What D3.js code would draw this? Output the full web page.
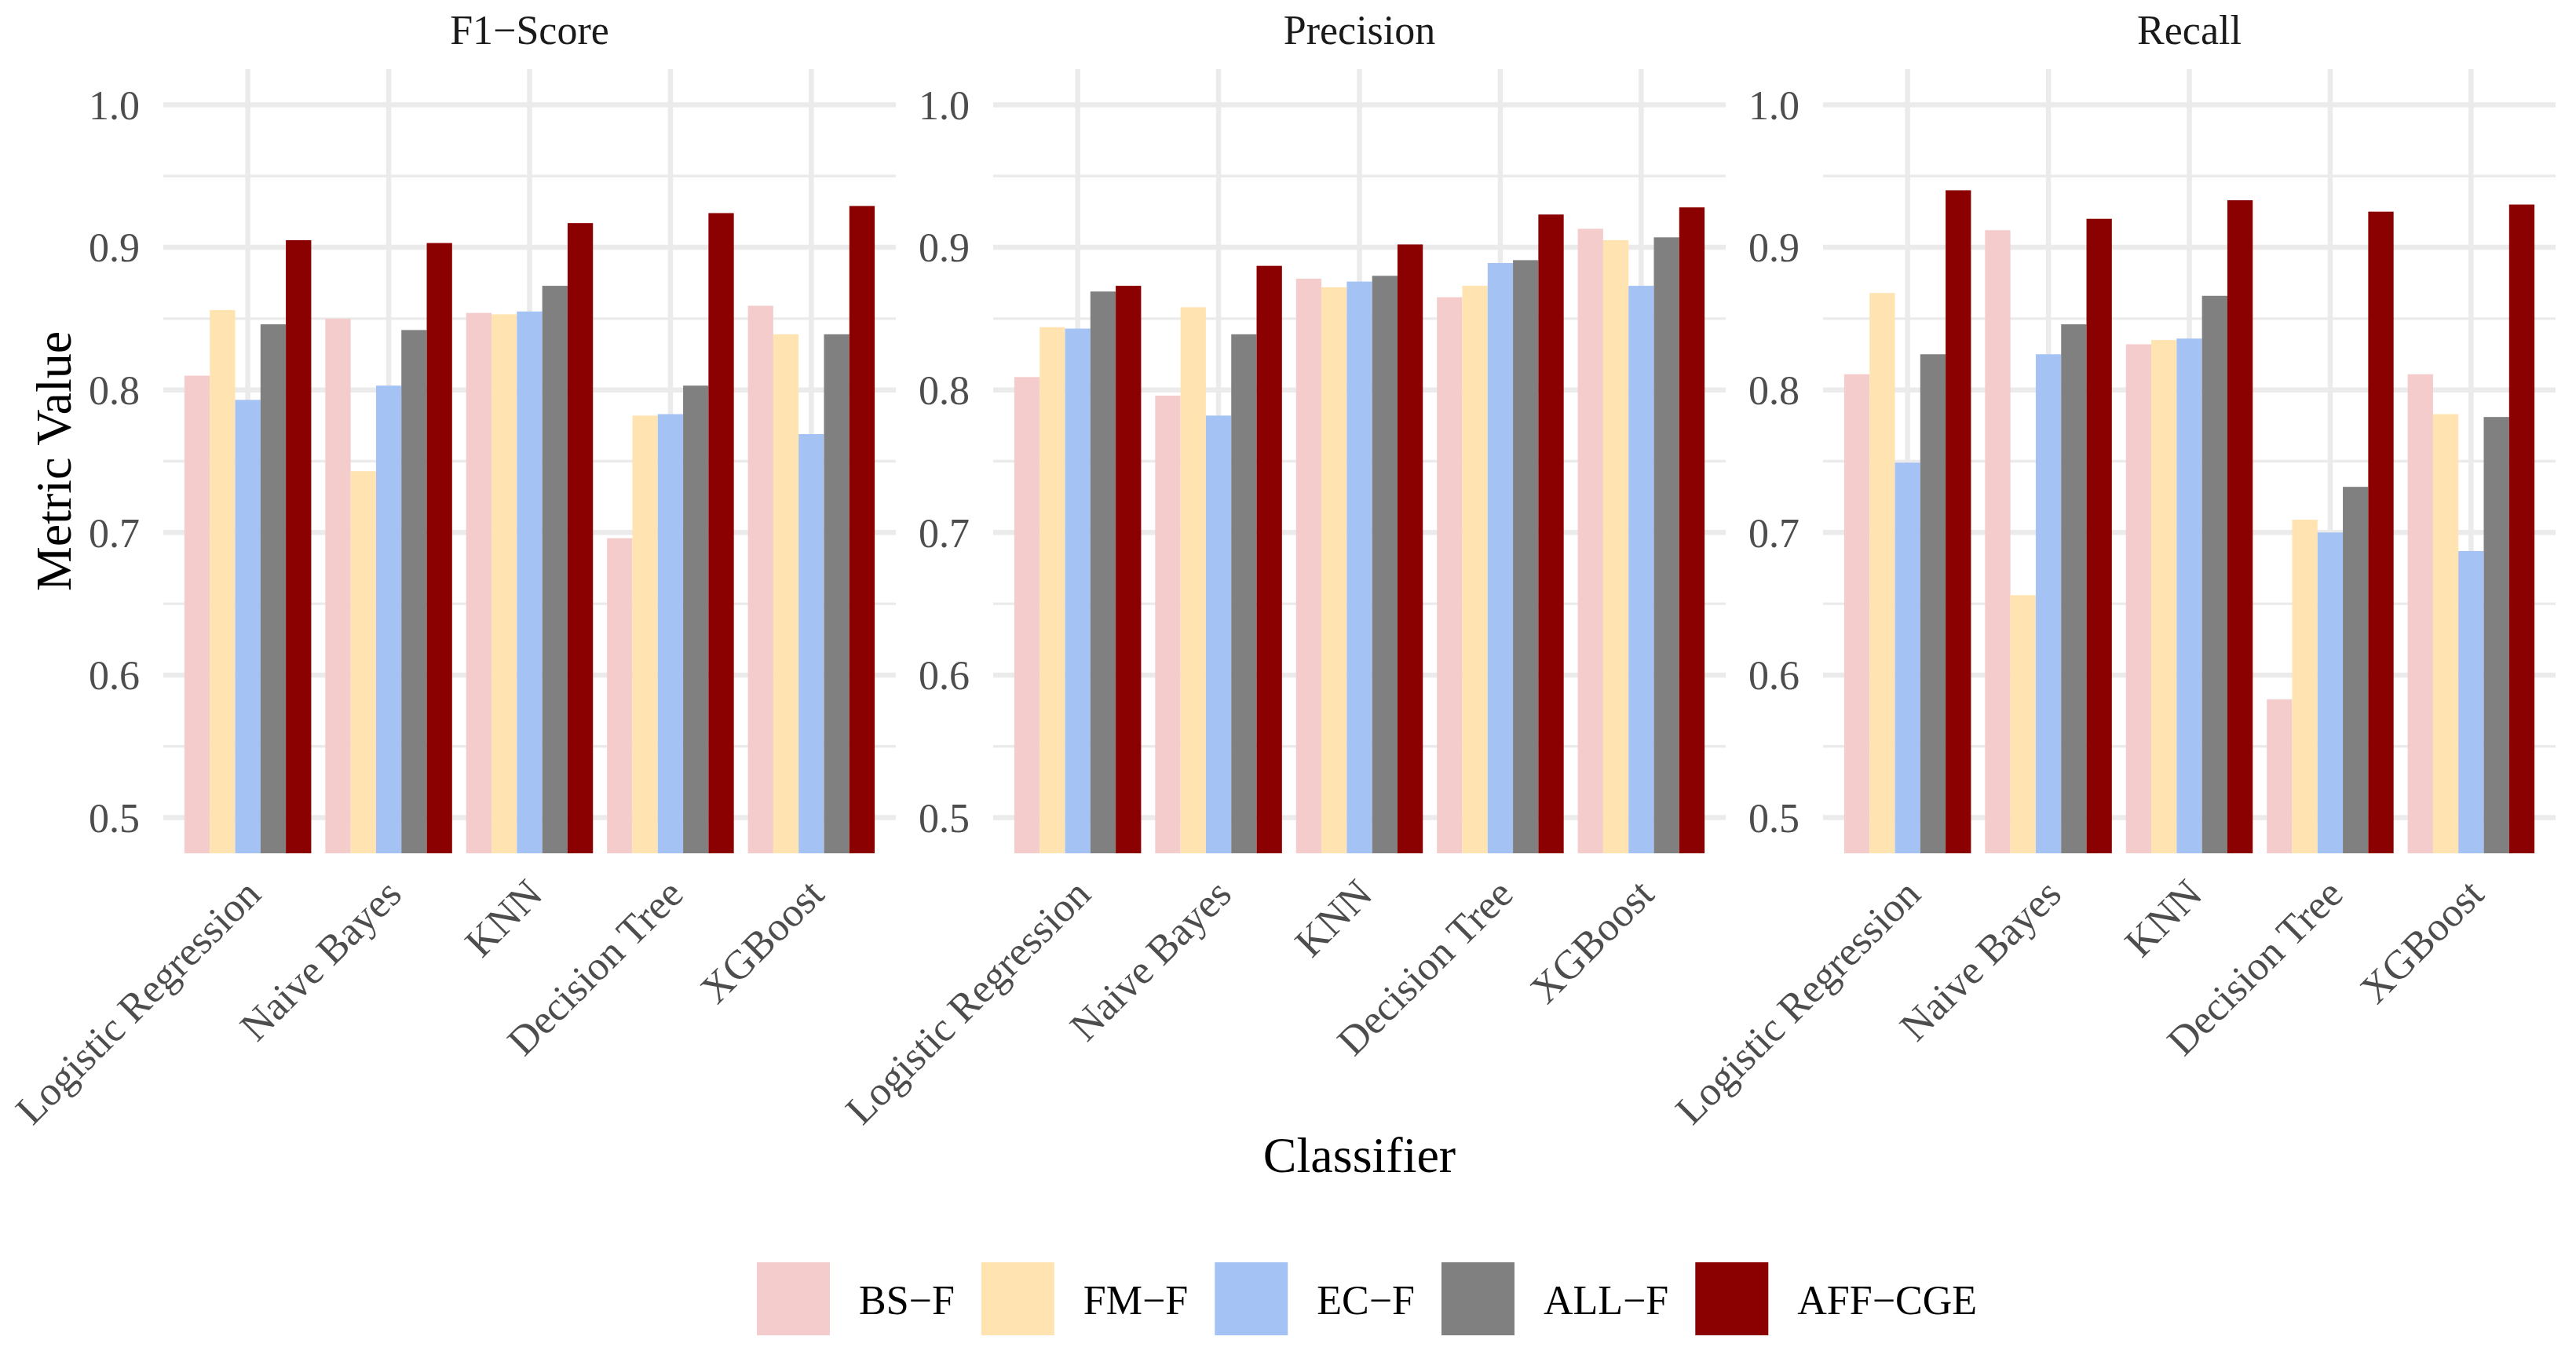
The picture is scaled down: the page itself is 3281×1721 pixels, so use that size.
<!DOCTYPE html>
<html>
<head>
<meta charset="utf-8">
<script src="https://cdn.jsdelivr.net/npm/d3@7"></script>
<style>
  body { margin: 0; background: #ffffff; }
  text { font-family: "Liberation Serif", "Times New Roman", serif; }
</style>
</head>
<body>
<div class="chart"></div>
<script>
var classifiers = ["Logistic Regression", "Naive Bayes", "KNN", "Decision Tree", "XGBoost"];
var featureSets = ["BS−F", "FM−F", "EC−F", "ALL−F", "AFF−CGE"];
var metrics = ["F1−Score", "Precision", "Recall"];
var colors = ["#F4CCCC", "#FFE4B2", "#A4C2F4", "#808080", "#8B0000"];
var yTicks = [0.5, 0.6, 0.7, 0.8, 0.9, 1.0];
var yMinorTicks = [0.55, 0.65, 0.75, 0.85, 0.95];

// one row per classifier, one value per feature set
var f1Scores = [
  [0.810, 0.856, 0.793, 0.846, 0.905],
  [0.850, 0.743, 0.803, 0.842, 0.903],
  [0.854, 0.853, 0.855, 0.873, 0.917],
  [0.696, 0.782, 0.783, 0.803, 0.924],
  [0.859, 0.839, 0.769, 0.839, 0.929]
];
var precisionScores = [
  [0.809, 0.844, 0.843, 0.869, 0.873],
  [0.796, 0.858, 0.782, 0.839, 0.887],
  [0.878, 0.872, 0.876, 0.880, 0.902],
  [0.865, 0.873, 0.889, 0.891, 0.923],
  [0.913, 0.905, 0.873, 0.907, 0.928]
];
var recallScores = [
  [0.811, 0.868, 0.749, 0.825, 0.940],
  [0.912, 0.656, 0.825, 0.846, 0.920],
  [0.832, 0.835, 0.836, 0.866, 0.933],
  [0.583, 0.709, 0.700, 0.732, 0.925],
  [0.811, 0.783, 0.687, 0.781, 0.930]
];
var metricValues = [f1Scores, precisionScores, recallScores];

var width = 3281;
var height = 1721;
var panelLeft = [208, 1265, 2322];
var panelWidth = 933;
var panelTop = 88;
var panelBottom = 1087;

var svg = d3.select(".chart")
  .append("svg")
  .attr("width", width)
  .attr("height", height);

svg.append("rect")
  .attr("width", width)
  .attr("height", height)
  .attr("fill", "#ffffff");

var y = d3.scaleLinear()
  .domain([0.475, 1.025])
  .range([panelBottom, panelTop]);

var xSub = d3.scaleBand()
  .domain(featureSets);

var color = d3.scaleOrdinal()
  .domain(featureSets)
  .range(colors);

metrics.forEach(function(metric, m) {
  var x = d3.scaleBand()
    .domain(classifiers)
    .range([panelLeft[m], panelLeft[m] + panelWidth])
    .paddingInner(0.1)
    .paddingOuter(0.15);
  xSub.range([0, x.bandwidth()]);

  var panel = svg.append("g").attr("class", "panel");

  // grid
  panel.selectAll(".minor")
    .data(yMinorTicks)
    .enter()
    .append("line")
    .attr("x1", panelLeft[m])
    .attr("x2", panelLeft[m] + panelWidth)
    .attr("y1", function(d) { return y(d); })
    .attr("y2", function(d) { return y(d); })
    .attr("stroke", "#EBEBEB")
    .attr("stroke-width", 3.3);

  panel.selectAll(".major")
    .data(yTicks)
    .enter()
    .append("line")
    .attr("x1", panelLeft[m])
    .attr("x2", panelLeft[m] + panelWidth)
    .attr("y1", function(d) { return y(d); })
    .attr("y2", function(d) { return y(d); })
    .attr("stroke", "#EBEBEB")
    .attr("stroke-width", 6.5);

  panel.selectAll(".vgrid")
    .data(classifiers)
    .enter()
    .append("line")
    .attr("x1", function(d) { return x(d) + x.bandwidth() / 2; })
    .attr("x2", function(d) { return x(d) + x.bandwidth() / 2; })
    .attr("y1", panelTop)
    .attr("y2", panelBottom)
    .attr("stroke", "#EBEBEB")
    .attr("stroke-width", 6.5);

  // bars
  var groups = panel.selectAll(".group")
    .data(classifiers)
    .enter()
    .append("g")
    .attr("transform", function(d) { return "translate(" + x(d) + ",0)"; });

  groups.selectAll("rect")
    .data(function(d, i) {
      return featureSets.map(function(f, j) {
        return { set: f, value: metricValues[m][i][j] };
      });
    })
    .enter()
    .append("rect")
    .attr("x", function(d) { return xSub(d.set); })
    .attr("width", xSub.bandwidth())
    .attr("y", function(d) { return y(d.value); })
    .attr("height", function(d) { return y(0.475) - y(d.value); })
    .attr("fill", function(d) { return color(d.set); });

  // y tick labels
  panel.selectAll(".ylab")
    .data(yTicks)
    .enter()
    .append("text")
    .attr("x", panelLeft[m] - 30)
    .attr("y", function(d) { return y(d); })
    .attr("dy", "0.35em")
    .attr("text-anchor", "end")
    .attr("font-size", 52)
    .attr("fill", "#4D4D4D")
    .text(function(d) { return d.toFixed(1); });

  // x tick labels, rotated 45 degrees
  panel.selectAll(".xlab")
    .data(classifiers)
    .enter()
    .append("text")
    .attr("transform", function(d) {
      return "translate(" + (x(d) + x.bandwidth() / 2 + 19) + ",1142) rotate(-45)";
    })
    .attr("text-anchor", "end")
    .attr("font-size", 52)
    .attr("fill", "#4D4D4D")
    .text(function(d) { return d; });

  // strip title
  panel.append("text")
    .attr("x", panelLeft[m] + panelWidth / 2)
    .attr("y", 56)
    .attr("text-anchor", "middle")
    .attr("font-size", 52)
    .attr("fill", "#1A1A1A")
    .text(metric);
});

// axis titles
svg.append("text")
  .attr("transform", "translate(90," + (panelTop + panelBottom) / 2 + ") rotate(-90)")
  .attr("text-anchor", "middle")
  .attr("font-size", 64)
  .attr("fill", "#000000")
  .text("Metric Value");

svg.append("text")
  .attr("x", (panelLeft[0] + panelLeft[2] + panelWidth) / 2)
  .attr("y", 1493)
  .attr("text-anchor", "middle")
  .attr("font-size", 64)
  .attr("fill", "#000000")
  .text("Classifier");

// legend
var keySize = 93;
var keyToText = 37;
var itemGap = 34;
var legend = svg.append("g").attr("class", "legend");

var items = legend.selectAll(".item")
  .data(featureSets)
  .enter()
  .append("g");

items.append("rect")
  .attr("width", keySize)
  .attr("height", keySize)
  .attr("y", 1608)
  .attr("fill", function(d) { return color(d); });

items.append("text")
  .attr("x", keySize + keyToText)
  .attr("y", 1674)
  .attr("font-size", 52)
  .attr("fill", "#000000")
  .text(function(d) { return d; });

var offsets = [];
var run = 0;
items.each(function() {
  offsets.push(run);
  var len = d3.select(this).select("text").node().getComputedTextLength();
  run += keySize + keyToText + len + itemGap;
});
var legendWidth = run - itemGap;
var legendStart = 1741 - legendWidth / 2;
items.attr("transform", function(d, i) { return "translate(" + (legendStart + offsets[i]) + ",0)"; });
</script>
</body>
</html>
